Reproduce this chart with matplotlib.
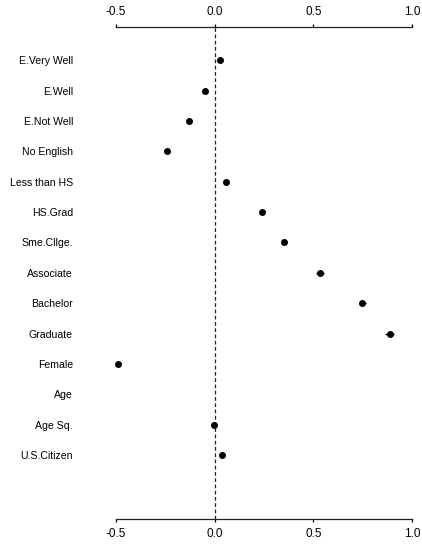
import matplotlib
matplotlib.use("Agg")
import matplotlib.pyplot as plt
import numpy as np

labels = ["E.Very Well", "E.Well", "E.Not Well", "No English", "Less than HS",
          "HS.Grad", "Sme.Cllge.", "Associate", "Bachelor", "Graduate",
          "Female", "Age", "Age Sq.", "U.S.Citizen"]
coef = [0.026, -0.048, -0.129, -0.242, 0.058,
        0.242, 0.352, 0.533, 0.749, 0.887,
        -0.492, np.nan, -0.003, 0.038]
ci_half = [0.008, 0.010, 0.012, 0.012, 0.012,
           0.014, 0.016, 0.022, 0.016, 0.022,
           0.006, np.nan, 0.004, 0.008]
xticks = [-0.5, 0.0, 0.5, 1.0]
xtick_labels = ["-0.5", "0.0", "0.5", "1.0"]

plt.rcParams['font.family'] = ['Liberation Sans', 'DejaVu Sans']

fig = plt.figure(figsize=(4.22, 5.46), dpi=100)
ax = fig.add_axes([116/422, 27/546, 296/422, 492/546])

ypos = np.arange(1, len(labels) + 1)
ax.errorbar(coef, ypos, xerr=ci_half, fmt='o', color='black', ms=4.0,
            elinewidth=1.0, capsize=0, clip_on=False, zorder=3)
ax.axvline(0.0, color='#222222', linestyle=(0, (3, 2)), linewidth=0.9, zorder=1)

ax.set_xlim(-0.5, 1.0)
ax.set_ylim(16.1, -0.09)

ax.set_yticks(ypos)
ax.set_yticklabels(labels, fontsize=7.6)
ax.tick_params(axis='y', length=0, pad=31)

ax.set_xticks(xticks)
ax.set_xticklabels(xtick_labels, fontsize=8.5)
ax.tick_params(axis='x', which='both', top=True, bottom=True, labeltop=True,
               labelbottom=True, direction='out', length=2.4, width=0.9,
               pad=4.2, colors='black')

for s in ['left', 'right']:
    ax.spines[s].set_visible(False)
for s in ['top', 'bottom']:
    ax.spines[s].set_linewidth(0.9)
    ax.spines[s].set_color('#222222')

fig.savefig("out.png", dpi=100)
